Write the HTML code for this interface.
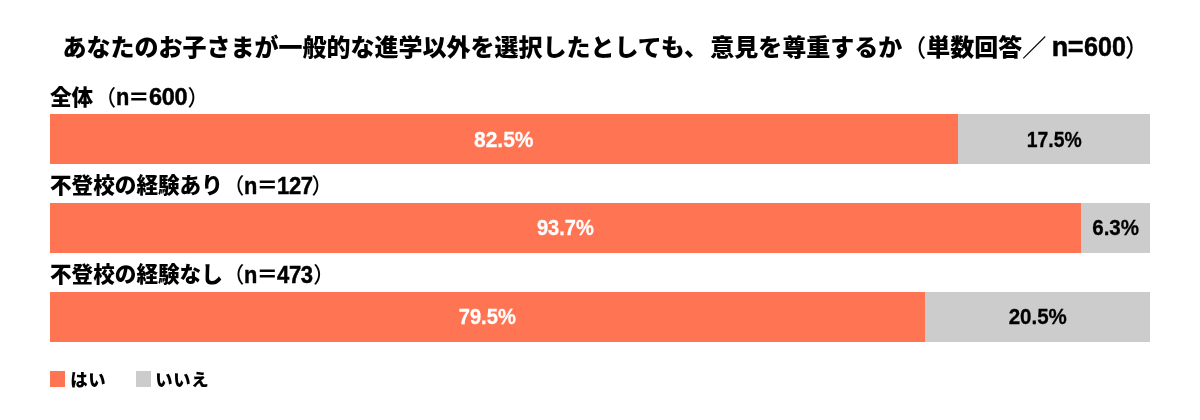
<!DOCTYPE html>
<html lang="ja">
<head>
<meta charset="utf-8">
<title>chart</title>
<style>
html,body{margin:0;padding:0;background:#fff;}
body{width:1200px;height:420px;position:relative;overflow:hidden;
  font-family:"Liberation Sans","Noto Sans CJK JP",sans-serif;font-weight:900;color:#000;}
.abs{position:absolute;white-space:nowrap;}
.title{left:62.6px;top:28.7px;font-size:24px;line-height:36px;height:36px;}
.title .l{-webkit-text-stroke:0.5px #000;font-size:27px;letter-spacing:-0.7px;position:relative;top:0.2px;margin-left:-1.3px;}
.title .c{margin-right:2.4px;}
.lbl{left:50px;font-size:21.6px;line-height:32px;height:32px;}
.lbl .l{-webkit-text-stroke:0.45px #000;font-size:24.5px;position:relative;top:0.7px;}
.lbl .n{margin-right:-2.9px;display:inline-block;transform:scaleX(0.89);transform-origin:0 50%;}
.lbl .d{margin-left:-0.9px;margin-right:-1.5px;letter-spacing:-0.4px;display:inline-block;transform-origin:0 50%;}
.bar{left:50px;width:1100px;height:50px;background:#cccccc;}
.bar .o{position:absolute;left:0;top:0;height:100%;background:#ff7452;}
.val{font-size:22.8px;line-height:50px;height:50px;text-align:center;transform:scaleX(0.9);margin-top:0px;-webkit-text-stroke:0.3px currentColor;}
.val.w{color:#fff;}
.p{font-weight:500;}
.lg{font-size:17.4px;letter-spacing:0.6px;line-height:24px;height:24px;}
.sq{width:15.4px;height:15.7px;top:371.3px;}
</style>
</head>
<body>
<div class="abs title">あなたのお子さまが一般的な進学以外を選択したとしても<span class="c">、</span>意見を尊重するか<span class="p">（</span>単数回答／<span class="l"> n=</span><span class="l" style="display:inline-block;transform:scaleX(0.93);transform-origin:0 50%;letter-spacing:0;margin-left:0.9px;margin-right:-3.8px">600</span><span class="p">）</span></div>

<div class="abs lbl" style="top:80.5px">全体<span class="p" style="margin-left:1.2px">（</span><span class="l n">n</span>＝<span class="l d" style="margin-left:-0.4px;margin-right:-1.4px;transform:scaleX(0.96)">600</span><span class="p">）</span></div>
<div class="abs bar" style="top:114px"><div class="o" style="width:907.5px"></div></div>
<div class="abs val w" style="top:114px;left:50px;width:907.5px;transform:scaleX(0.92)">82.5%</div>
<div class="abs val" style="top:114px;left:958.2px;width:192.5px;transform:scaleX(0.85)">17.5%</div>

<div class="abs lbl" style="top:169.3px">不登校の経験あり<span class="p">（</span><span class="l n">n</span>＝<span class="l d" style="margin-left:-1.5px;margin-right:-4.65px;transform:scaleX(0.9)">127</span><span class="p">）</span></div>
<div class="abs bar" style="top:202.8px"><div class="o" style="width:1030.7px"></div></div>
<div class="abs val w" style="top:202px;left:50px;width:1030.7px;transform:scaleX(0.88)">93.7%</div>
<div class="abs val" style="top:202px;left:1080.7px;width:69.3px">6.3%</div>

<div class="abs lbl" style="top:258.1px">不登校の経験なし<span class="p">（</span><span class="l n">n</span>＝<span class="l d" style="margin-left:-1.5px;margin-right:-3.1px;transform:scaleX(0.9)">473</span><span class="p">）</span></div>
<div class="abs bar" style="top:291.6px"><div class="o" style="width:874.5px"></div></div>
<div class="abs val w" style="top:290.6px;left:50px;width:874.5px;transform:scaleX(0.883)">79.5%</div>
<div class="abs val" style="top:290.6px;left:924.5px;width:225.5px">20.5%</div>

<div class="abs sq" style="left:50px;background:#ff7452"></div>
<div class="abs lg" style="left:70.2px;top:368.2px">はい</div>
<div class="abs sq" style="left:135.8px;background:#cccccc"></div>
<div class="abs lg" style="left:155.3px;top:368.2px">いいえ</div>
</body>
</html>
